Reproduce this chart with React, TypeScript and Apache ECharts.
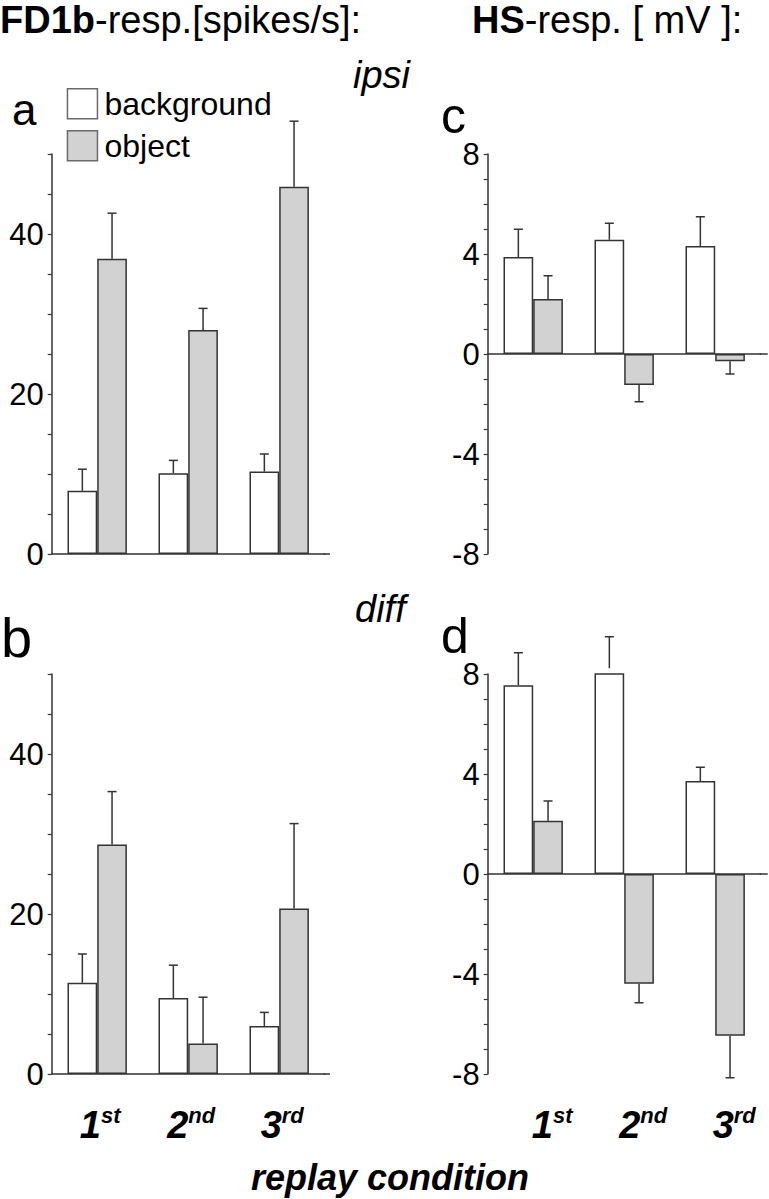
import React, { useEffect, useRef } from 'react';
import * as echarts from 'echarts';

// ---------- data ----------
const categories = ['1st', '2nd', '3rd'];
const seriesNames = ['background', 'object'];

// FD1b response [spikes/s]
const fd1bIpsiBackground = [7.9, 10.1, 10.3];
const fd1bIpsiBackgroundSem = [2.7, 1.6, 2.2];
const fd1bIpsiObject = [36.9, 28.0, 45.9];
const fd1bIpsiObjectSem = [5.7, 2.7, 8.2];
const fd1bDiffBackground = [11.4, 9.5, 6.0];
const fd1bDiffBackgroundSem = [3.6, 4.1, 1.7];
const fd1bDiffObject = [28.7, 3.8, 20.7];
const fd1bDiffObjectSem = [6.6, 5.8, 10.6];

// HS response [mV]
const hsIpsiBackground = [3.88, 4.57, 4.32];
const hsIpsiBackgroundSem = [1.11, 0.66, 1.17];
const hsIpsiObject = [2.2, -1.24, -0.29];
const hsIpsiObjectSem = [0.93, 0.67, 0.51];
const hsDiffBackground = [7.55, 8.23, 3.72];
const hsDiffBackgroundSem = [1.3, 1.26, 0.55];
const hsDiffObject = [2.13, -4.39, -6.47];
const hsDiffObjectSem = [0.79, 0.76, 1.68];

const fd1bTicks = [0, 20, 40];
const hsTicks = [-8, -4, 0, 4, 8];

// ---------- styling / layout ----------
const FONT = "'Liberation Sans', Arial, Helvetica, sans-serif";
const INK = '#333';
const GRAY = '#d2d2d2';
const BAR_W = 29.7;
const LEFT_A = 51.7;
const LEFT_C = 487.7;
const GW = 273;
const TOP1 = 154;
const TOP2 = 674;
const GH = 400;

function barSeries(name: string, color: string, data: number[], xi: number, yi: number) {
  return {
    type: 'bar',
    name,
    xAxisIndex: xi,
    yAxisIndex: yi,
    data,
    barWidth: BAR_W,
    barGap: '0%',
    itemStyle: { color, borderColor: INK, borderWidth: 1.5 },
    z: 2,
  };
}

function errSeries(means: number[], sems: number[], xi: number, yi: number, side: number) {
  return {
    type: 'custom',
    name: 'err',
    xAxisIndex: xi,
    yAxisIndex: yi,
    silent: true,
    z: 3,
    data: means.map((m, i) => [i, m, m + (m >= 0 ? 1 : -1) * sems[i]]),
    encode: { x: 0, y: [1, 2] },
    renderItem: (_p: any, api: any) => {
      const i = api.value(0);
      const p0 = api.coord([i, api.value(1)]);
      const p1 = api.coord([i, api.value(2)]);
      const x = p0[0] + (side * BAR_W) / 2;
      const st = { stroke: INK, lineWidth: 1.5 };
      return {
        type: 'group',
        children: [
          { type: 'line', shape: { x1: x, y1: p0[1], x2: x, y2: p1[1] }, style: st },
          { type: 'line', shape: { x1: x - 4.5, y1: p1[1], x2: x + 4.5, y2: p1[1] }, style: st },
        ],
      };
    },
  };
}

function yAxis(gi: number, min: number, max: number, labels: number[]) {
  return {
    type: 'value',
    gridIndex: gi,
    min,
    max,
    interval: max - min > 20 ? 5 : 1,
    axisLine: { show: true, lineStyle: { color: INK, width: 1.5 } },
    axisTick: { show: true, length: 4, lineStyle: { color: INK, width: 1.2 } },
    splitLine: { show: false },
    axisLabel: {
      margin: 8,
      fontSize: 31,
      color: '#000',
      fontFamily: FONT,
      formatter: (v: number) => (labels.indexOf(v) >= 0 ? String(v) : ''),
    },
  };
}

function lineXAxis(gi: number) {
  return {
    type: 'category',
    gridIndex: gi,
    data: categories,
    position: 'bottom',
    axisLine: { show: true, onZero: true, lineStyle: { color: INK, width: 1.5 } },
    axisTick: { show: false },
    axisLabel: { show: false },
  };
}

function labelXAxis(gi: number, shift: number) {
  return {
    type: 'category',
    gridIndex: gi,
    data: categories,
    position: 'bottom',
    axisLine: { show: false, onZero: false },
    axisTick: { show: false },
    axisLabel: {
      show: true,
      margin: 30,
      padding: [0, 0, 0, shift],
      formatter: (v: string) => `{n|${v.slice(0, 1)}}{s|${v.slice(1)}}`,
      rich: {
        n: { fontSize: 38, fontWeight: 'bold', fontStyle: 'italic', fontFamily: FONT, color: '#000', lineHeight: 40, padding: [11, 0, 0, 0], verticalAlign: 'bottom' },
        s: { fontSize: 22, fontWeight: 'bold', fontStyle: 'italic', fontFamily: FONT, color: '#000', lineHeight: 22, verticalAlign: 'top' },
      },
    },
  };
}

function txt(x: number, baseline: number, size: number, text: string, extra: any = {}) {
  return {
    type: 'text',
    x,
    y: baseline - 0.3465 * size,
    style: {
      text,
      fill: '#000',
      fontSize: size,
      fontFamily: FONT,
      verticalAlign: 'middle',
      align: 'left',
      ...extra,
    },
  };
}

function hline(x1: number, x2: number, y: number) {
  return { type: 'line', shape: { x1, y1: y, x2, y2: y }, style: { stroke: INK, lineWidth: 1.5 } };
}

function titleText(x: number, bold: string, rest: string) {
  const fs = 38;
  const lh = Math.ceil(fs * 1.12);
  return {
    type: 'text',
    x,
    y: 1,
    style: {
      text: `{b|${bold}}{r|${rest}}`,
      rich: {
        b: { fontSize: fs, lineHeight: lh, fontWeight: 'bold', fontFamily: FONT, fill: '#000', verticalAlign: 'top' },
        r: { fontSize: fs, lineHeight: lh, fontFamily: FONT, fill: '#000', verticalAlign: 'top' },
      },
      verticalAlign: 'top',
    },
  };
}

export default function App() {
  const ref = useRef<HTMLDivElement>(null);
  useEffect(() => {
    if (!ref.current) return;
    const chart = echarts.init(ref.current, undefined, { renderer: 'svg' });
    const option: any = {
      animation: false,
      backgroundColor: '#fff',
      grid: [
        { left: LEFT_A, top: TOP1, width: GW, height: GH },
        { left: LEFT_C, top: TOP1, width: GW, height: GH },
        { left: LEFT_A, top: TOP2, width: GW, height: GH },
        { left: LEFT_C, top: TOP2, width: GW, height: GH },
      ],
      xAxis: [
        lineXAxis(0),
        lineXAxis(1),
        { ...labelXAxis(2, 6), axisLine: { show: true, onZero: true, lineStyle: { color: INK, width: 1.5 } } },
        lineXAxis(3),
        labelXAxis(3, 38),
      ],
      yAxis: [yAxis(0, 0, 50, fd1bTicks), yAxis(1, -8, 8, hsTicks), yAxis(2, 0, 50, fd1bTicks), yAxis(3, -8, 8, hsTicks)],
      legend: {
        data: seriesNames,
        orient: 'vertical',
        left: 61.7,
        top: 82.7,
        itemWidth: 30,
        itemHeight: 30,
        itemGap: 10,
        icon: 'rect',
        itemStyle: { borderColor: '#6a6a6a', borderWidth: 1.5 },
        textStyle: { fontSize: 32, fontFamily: FONT, color: '#000', padding: [0, 0, 0, 2] },
      },
      series: [
        barSeries(seriesNames[0], '#fff', fd1bIpsiBackground, 0, 0),
        barSeries(seriesNames[1], GRAY, fd1bIpsiObject, 0, 0),
        errSeries(fd1bIpsiBackground, fd1bIpsiBackgroundSem, 0, 0, -1),
        errSeries(fd1bIpsiObject, fd1bIpsiObjectSem, 0, 0, 1),

        barSeries(seriesNames[0], '#fff', hsIpsiBackground, 1, 1),
        barSeries(seriesNames[1], GRAY, hsIpsiObject, 1, 1),
        errSeries(hsIpsiBackground, hsIpsiBackgroundSem, 1, 1, -1),
        errSeries(hsIpsiObject, hsIpsiObjectSem, 1, 1, 1),

        barSeries(seriesNames[0], '#fff', fd1bDiffBackground, 2, 2),
        barSeries(seriesNames[1], GRAY, fd1bDiffObject, 2, 2),
        errSeries(fd1bDiffBackground, fd1bDiffBackgroundSem, 2, 2, -1),
        errSeries(fd1bDiffObject, fd1bDiffObjectSem, 2, 2, 1),

        barSeries(seriesNames[0], '#fff', hsDiffBackground, 3, 3),
        barSeries(seriesNames[1], GRAY, hsDiffObject, 3, 3),
        errSeries(hsDiffBackground, hsDiffBackgroundSem, 3, 3, -1),
        errSeries(hsDiffObject, hsDiffObjectSem, 3, 3, 1),
      ],
      graphic: [
        titleText(0, 'FD1b', '-resp.[spikes/s]:'),
        titleText(472, 'HS', '-resp. [ mV ]:'),
        txt(353, 88, 38, 'ipsi', { fontStyle: 'italic' }),
        txt(355, 622, 38, 'diff', { fontStyle: 'italic' }),
        txt(12, 125, 44, 'a'),
        txt(441, 133, 50, 'c'),
        txt(1, 657, 56, 'b'),
        txt(441, 653, 50, 'd'),
        txt(390, 1190, 36, 'replay condition', { fontWeight: 'bold', fontStyle: 'italic', align: 'center' }),
        hline(LEFT_A + GW - 1, 330, TOP1 + GH),
        hline(LEFT_A + GW - 1, 330, TOP2 + GH),
        hline(LEFT_C + GW - 1, 767.7, TOP1 + GH / 2),
        hline(LEFT_C + GW - 1, 767.7, TOP2 + GH / 2),
      ],
    };
    chart.setOption(option);
    return () => chart.dispose();
  }, []);
  return <div ref={ref} style={{ position: 'absolute', left: 0, top: 0, width: 769, height: 1199 }} />;
}
